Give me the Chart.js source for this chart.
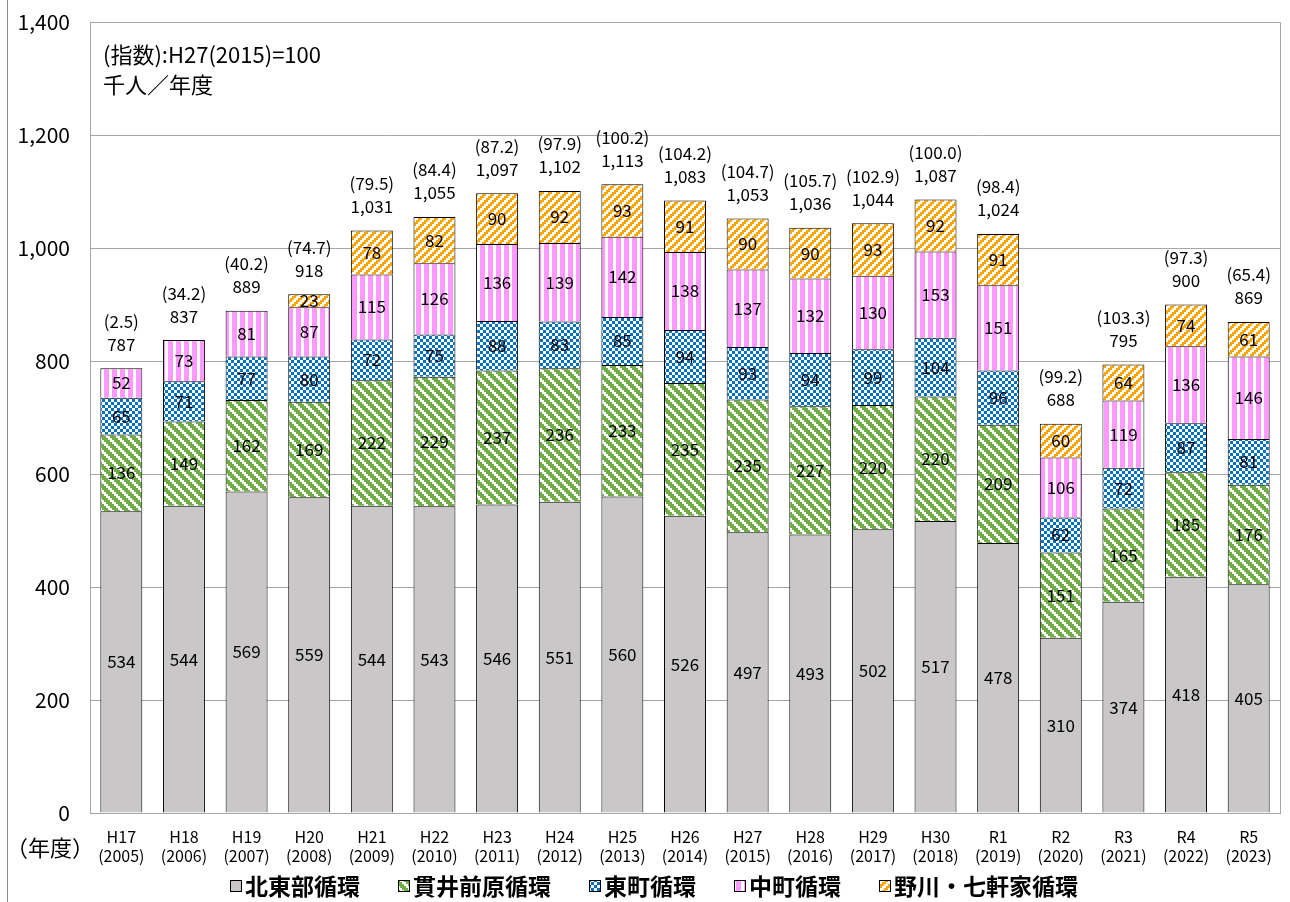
<!DOCTYPE html>
<html>
<script src="https://cdn.jsdelivr.net/npm/chart.js@4.4.1/dist/chart.umd.min.js"></script>
<style>
  body { margin: 0; background: #fff; }
</style>
<body>
  <canvas id="riders" width="1290" height="902"></canvas>
  <script>
    const years = ["H17", "H18", "H19", "H20", "H21", "H22", "H23", "H24", "H25", "H26",
      "H27", "H28", "H29", "H30", "R1", "R2", "R3", "R4", "R5"];
    const westYears = ["2005", "2006", "2007", "2008", "2009", "2010", "2011", "2012", "2013", "2014",
      "2015", "2016", "2017", "2018", "2019", "2020", "2021", "2022", "2023"];

    const hokutobu = [534, 544, 569, 559, 544, 543, 546, 551, 560, 526, 497, 493, 502, 517, 478, 310, 374, 418, 405];
    const nukuiMaehara = [136, 149, 162, 169, 222, 229, 237, 236, 233, 235, 235, 227, 220, 220, 209, 151, 165, 185, 176];
    const higashimachi = [65, 71, 77, 80, 72, 75, 88, 83, 85, 94, 93, 94, 99, 104, 96, 62, 72, 87, 81];
    const nakamachi = [52, 73, 81, 87, 115, 126, 136, 139, 142, 138, 137, 132, 130, 153, 151, 106, 119, 136, 146];
    const nogawa = [null, null, null, 23, 78, 82, 90, 92, 93, 91, 90, 90, 93, 92, 91, 60, 64, 74, 61];

    const totals = [787, 837, 889, 918, 1031, 1055, 1097, 1102, 1113, 1083, 1053, 1036, 1044, 1087, 1024, 688, 795, 900, 869];
    const indexes = [2.5, 34.2, 40.2, 74.7, 79.5, 84.4, 87.2, 97.9, 100.2, 104.2, 104.7, 105.7, 102.9, 100.0, 98.4, 99.2, 103.3, 97.3, 65.4];

    const yTicks = [0, 200, 400, 600, 800, 1000, 1200, 1400];

    const FONT = '"Noto Sans CJK JP", "Noto Sans", sans-serif';

    // little tiles for the hatch fills
    function tile(size, paint) {
      const c = document.createElement("canvas");
      c.width = size; c.height = size;
      const g = c.getContext("2d");
      g.fillStyle = "#fff";
      g.fillRect(0, 0, size, size);
      paint(g);
      return g.createPattern(c, "repeat");
    }

    const greenHatch = tile(10, g => {
      g.fillStyle = "#70ad47";
      for (let cx = 0; cx < 5; cx++)
        for (let cy = 0; cy < 5; cy++)
          if (((cx - cy + 5) % 5) >= 2) g.fillRect(cx * 2, cy * 2, 2, 2);
    });
    const blueCheck = tile(6, g => {
      g.fillStyle = "#0070c0";
      g.fillRect(3, 0, 3, 3);
      g.fillRect(0, 3, 3, 3);
    });
    const pinkStripe = tile(8, g => {
      g.fillStyle = "#ff99ff";
      g.fillRect(0, 0, 5, 8);
    });
    const orangeHatch = tile(8, g => {
      g.fillStyle = "#ffa500";
      for (let cx = 0; cx < 4; cx++)
        for (let cy = 0; cy < 4; cy++)
          if (((cx + cy) % 4) >= 2) g.fillRect(cx * 2, cy * 2, 2, 2);
    });

    const labelPlugin = {
      id: "labels",
      beforeDatasetsDraw(chart) {
        const { ctx, chartArea } = chart;
        ctx.save();
        ctx.strokeStyle = "#a6a6a6";
        ctx.lineWidth = 1;
        ctx.strokeRect(chartArea.left + 0.5, chartArea.top + 0.5, chartArea.width, chartArea.height);
        // outer frame line on the left
        ctx.strokeStyle = "#8c8c8c";
        ctx.beginPath();
        ctx.moveTo(7.5, 0);
        ctx.lineTo(7.5, chart.height);
        ctx.stroke();
        ctx.restore();
      },
      afterDatasetsDraw(chart) {
        const { ctx, chartArea } = chart;
        const y = chart.scales.y;
        ctx.save();
        ctx.fillStyle = "#000";
        ctx.textAlign = "center";
        ctx.textBaseline = "middle";
        ctx.font = "17px " + FONT;
        chart.data.datasets.forEach((ds, i) => {
          const meta = chart.getDatasetMeta(i);
          meta.data.forEach((bar, j) => {
            if (ds.data[j] == null) return;
            ctx.fillText(String(ds.data[j]), bar.x, (bar.y + bar.base) / 2);
          });
        });
        const first = chart.getDatasetMeta(0);
        first.data.forEach((bar, j) => {
          let top = 0;
          chart.data.datasets.forEach(ds => { top += ds.data[j] || 0; });
          const py = y.getPixelForValue(top);
          ctx.fillText(totals[j].toLocaleString("en-US"), bar.x, py - 24);
          ctx.fillText("(" + indexes[j].toFixed(1) + ")", bar.x, py - 47);
        });

        ctx.textAlign = "left";
        ctx.font = "22px " + FONT;
        ctx.fillText("(指数):H27(2015)=100", chartArea.left + 13, chartArea.top + 33);
        ctx.fillText("千人／年度", chartArea.left + 13, chartArea.top + 63);
        ctx.font = "22px " + FONT;
        ctx.fillText("（年度）", 6, chartArea.bottom + 35);

        // legend along the bottom
        ctx.font = "bold 23px " + FONT;
        const gap = 38, box = 12;
        const items = chart.data.datasets.map(ds => ({
          text: ds.label, fill: ds.backgroundColor, w: box + 3 + ctx.measureText(ds.label).width,
        }));
        const full = items.reduce((a, it) => a + it.w, 0) + gap * (items.length - 1);
        let lx = 654 - full / 2;
        const ly = 886;
        items.forEach(it => {
          ctx.fillStyle = it.fill;
          ctx.fillRect(lx, ly - box / 2, box, box);
          ctx.strokeStyle = "#000";
          ctx.lineWidth = 1;
          ctx.strokeRect(lx + 0.5, ly - box / 2 + 0.5, box - 1, box - 1);
          ctx.fillStyle = "#000";
          ctx.fillText(it.text, lx + box + 3, ly);
          lx += it.w + gap;
        });
        ctx.restore();
      }
    };

    new Chart("riders", {
      type: "bar",
      data: {
        labels: years.map((y, i) => [y, "(" + westYears[i] + ")"]),
        datasets: [
          { label: "北東部循環", data: hokutobu, backgroundColor: "#c9c7c7" },
          { label: "貫井前原循環", data: nukuiMaehara, backgroundColor: greenHatch },
          { label: "東町循環", data: higashimachi, backgroundColor: blueCheck },
          { label: "中町循環", data: nakamachi, backgroundColor: pinkStripe },
          { label: "野川・七軒家循環", data: nogawa, backgroundColor: orangeHatch },
        ].map(d => Object.assign(d, {
          borderColor: "#000",
          borderWidth: 1,
          borderSkipped: "start",
          categoryPercentage: 1,
          barPercentage: 0.67,
        })),
      },
      options: {
        responsive: false,
        animation: false,
        devicePixelRatio: 1,
        layout: { padding: { left: 10, right: 10, top: 22, bottom: 33 } },
        scales: {
          x: {
            stacked: true,
            grid: { display: false },
            border: { display: false },
            ticks: {
              color: "#000",
              font: { size: 16, family: FONT },
              maxRotation: 0,
              autoSkip: false,
              padding: 6,
            },
            afterFit(scale) { scale.height = 56; },
          },
          y: {
            stacked: true,
            min: 0,
            max: 1400,
            afterBuildTicks(scale) { scale.ticks = yTicks.map(v => ({ value: v })); },
            grid: { color: "#a6a6a6", drawTicks: false },
            border: { display: false },
            ticks: {
              color: "#000",
              font: { size: 21, family: FONT },
              padding: 20,
              callback: v => v.toLocaleString("en-US"),
            },
            afterFit(scale) {
              scale.width = 80;
              scale.paddingTop = 0;
            },
          },
        },
        plugins: {
          legend: { display: false },
          tooltip: { enabled: false },
        },
      },
      plugins: [labelPlugin],
    });
  </script>
</body>
</html>
